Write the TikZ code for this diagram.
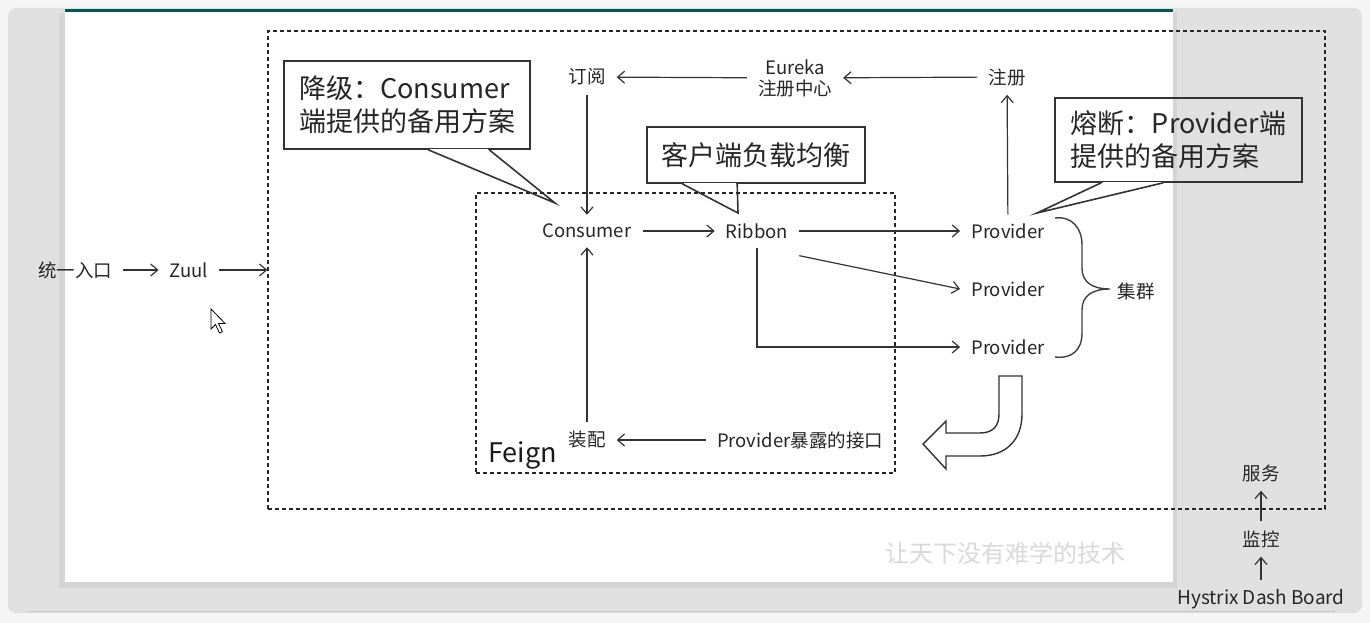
\documentclass[tikz,border=0pt]{standalone}
\usepackage{fontspec}
\setmainfont{Noto Sans CJK SC}
\usetikzlibrary{arrows.meta,calc}

\begin{document}
\begin{tikzpicture}[
x=1pt, y=-1pt,
lbl/.style={inner xsep=11pt, inner ysep=9pt, text=black!85,
	font=\fontsize{18.5}{21}\selectfont},
notebox/.style={draw=black!80, line width=1.6pt, align=left,
	inner sep=0pt, text=black!85, font=\fontsize{27}{33}\selectfont},
noteline/.style={draw=black!80, line width=1.6pt, line join=miter},
dashbox/.style={draw=black!85, line width=1.2pt,
	dash pattern=on 4pt off 3pt, inner sep=0pt},
link/.style={->, draw=black!80, line width=1.2pt},
>={Straight Barb[length=7pt,width=12pt]}
]
\useasboundingbox (0,0) rectangle (1370,623);
% window and slide
\fill[gray!8] (0,0) rectangle (1370,623);
\fill[gray!24, rounded corners=8pt] (8,8) rectangle (1362,613);
\draw[gray!45] (28,611) -- (1335,611);
\fill[gray!34] (59,13) rectangle (1177,588);
\fill[white] (65,10) rectangle (1173,582);
\draw[teal!70!black, line width=2.5pt] (65,10.5) -- (1173,10.5);
\node[text=gray!30, font=\fontsize{24}{24}\selectfont] (motto) at (1005,553) {让天下没有难学的技术};

% callouts
\node[notebox, minimum width=246pt, minimum height=88pt] (degrade) at (407,105)
	{降级：Consumer\\端提供的备用方案};
\coordinate (degradetip) at (555,203);
\fill[white] ([xshift=145pt]degrade.south west) -- (degradetip) -- ([xshift=206pt]degrade.south west) -- cycle;
\draw[white, line width=2.6pt] ([xshift=146.5pt]degrade.south west) -- ([xshift=204.5pt]degrade.south west);
\draw[noteline] ([xshift=145pt]degrade.south west) -- (degradetip) -- ([xshift=206pt]degrade.south west);

\node[notebox, minimum width=218pt, minimum height=56pt] (balance) at (756,155)
	{客户端负载均衡};
\coordinate (balancetip) at (738,213);
\fill[white] ([xshift=36pt]balance.south west) -- (balancetip) -- ([xshift=91pt]balance.south west) -- cycle;
\draw[white, line width=2.6pt] ([xshift=37.5pt]balance.south west) -- ([xshift=89.5pt]balance.south west);
\draw[noteline] ([xshift=36pt]balance.south west) -- (balancetip) -- ([xshift=91pt]balance.south west);

\node[notebox, minimum width=247pt, minimum height=84pt] (fuse) at (1178.5,140)
	{熔断：Provider端\\提供的备用方案};
\coordinate (fusetip) at (1037,213);
\fill[white] ([xshift=47pt]fuse.south west) -- (fusetip) -- ([xshift=109pt]fuse.south west) -- cycle;
\draw[white, line width=2.6pt] ([xshift=48.5pt]fuse.south west) -- ([xshift=107.5pt]fuse.south west);
\draw[noteline] ([xshift=47pt]fuse.south west) -- (fusetip) -- ([xshift=109pt]fuse.south west);

% frames
\node[dashbox, minimum width=1057pt, minimum height=478pt] (sys) at (796.5,270) {};
\node[dashbox, minimum width=419pt, minimum height=280pt] (feign) at (685.5,333) {};
\node[anchor=base west, inner sep=0pt, text=black!90,
	font=\fontsize{27}{30}\selectfont] (feignlbl) at (488,462) {Feign};

% nodes
\node[lbl] (entry) at (75,270) {统一入口};
\node[lbl] (zuul) at (189,270) {Zuul};
\node[lbl] (sub) at (587,77) {订阅};
\node[lbl, align=center] (eureka) at (795,78) {Eureka\\注册中心};
\node[lbl] (reg) at (1007,77) {注册};
\node[lbl] (consumer) at (587,231) {Consumer};
\node[lbl] (ribbon) at (757,231) {Ribbon};
\node[lbl] (prov1) at (1008,231) {Provider};
\node[lbl] (prov2) at (1008,289) {Provider};
\node[lbl] (prov3) at (1008,347) {Provider};
\node[lbl] (cluster) at (1136,291) {集群};
\node[lbl] (wire) at (587,440) {装配};
\node[lbl] (api) at (800,440) {Provider暴露的接口};
\node[lbl] (service) at (1261,473) {服务};
\node[lbl] (monitor) at (1261,539) {监控};
\node[lbl, font=\fontsize{19}{21}\selectfont] (dash) at (1261,599) {Hystrix Dash Board};

% connectors
\draw[link] (entry) -- (zuul);
\draw[link] (zuul) -- (sys.west);
\draw[link] (reg) -- (eureka);
\draw[link] (eureka) -- (sub);
\draw[link] (sub) -- (consumer);
\draw[link] (consumer) -- (ribbon);
\draw[link] (ribbon) -- (prov1);
\draw[link] ([yshift=-8pt]ribbon.south east) -- (prov2.west);
\draw[link] (ribbon.south) |- (prov3.west);
\draw[link] (prov1) -- (reg);
\draw[link] (api) -- (wire);
\draw[link] (wire) -- (consumer);
\draw[link] (dash) -- (monitor);
\draw[link] (monitor) -- (service);

% brace of the cluster
\draw[black!75, line width=1.4pt]
	(1055,218) .. controls (1072,216) and (1082,228) .. (1082,245) -- (1082,268)
	.. controls (1082,282) and (1092,289) .. (1110,289)
	.. controls (1092,289) and (1082,296) .. (1082,310) -- (1082,333)
	.. controls (1082,350) and (1072,359) .. (1055,357);

% turning arrow
\draw[black!80, line width=1.4pt, fill=white, line join=miter]
	(999,376) -- (1022,376) -- (1022,414)
	.. controls (1022,440) and (1006,456) .. (980,456) -- (946,456) -- (946,469)
	-- (923,444) -- (946,421) -- (946,433) -- (980,433)
	.. controls (993,433) and (999,426) .. (999,414) -- cycle;

% mouse pointer
\draw[draw=black, fill=white, line width=0.8pt] (211,309) -- ++(0,20) -- ++(4.5,-4.5)
	-- ++(4,8.5) -- ++(3,-1.3) -- ++(-4,-8.3) -- ++(6.5,0) -- cycle;
\end{tikzpicture}
\end{document}
